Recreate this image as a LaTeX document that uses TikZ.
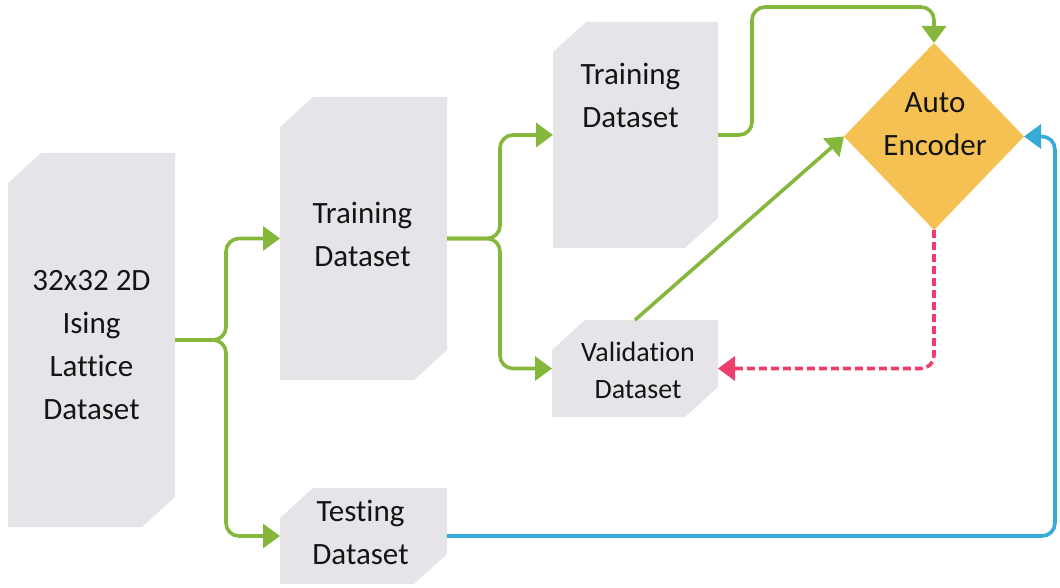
\documentclass[tikz,border=0pt]{standalone}
\usepackage{fontspec}
\setmainfont{Carlito}[Ligatures=NoCommon]
\usetikzlibrary{arrows.meta,shapes.geometric}

\definecolor{boxgray}{RGB}{230,228,232}
\definecolor{flowgreen}{RGB}{134,183,61}
\definecolor{flowpink}{RGB}{240,62,108}
\definecolor{flowblue}{RGB}{56,170,214}
\definecolor{aegold}{RGB}{245,193,82}
\definecolor{inkdark}{RGB}{20,20,20}

\tikzset{
  % gray data block with the top-left and bottom-right corners cut off
  databox/.style={rectangle, draw=none, inner sep=0pt, outer sep=0pt,
    minimum width=#1,
    path picture={
      \fill[boxgray]
        ([xshift=33pt]path picture bounding box.north west)
        -- (path picture bounding box.north east)
        -- ([yshift=30pt]path picture bounding box.south east)
        -- ([xshift=-33pt]path picture bounding box.south east)
        -- (path picture bounding box.south west)
        -- ([yshift=-30pt]path picture bounding box.north west)
        -- cycle;}},
  lbl/.style={align=center, text=inkdark, inner sep=0pt,
    font=\fontsize{31}{43}\selectfont},
  lblsmall/.style={lbl, font=\fontsize{28}{37}\selectfont},
  link/.style={line width=3.6pt, rounded corners=13pt,
    -{Triangle[length=17pt,width=24pt]}},
  glink/.style={link, draw=flowgreen},
  plink/.style={link, draw=flowpink, dash pattern=on 8pt off 4pt},
  blink/.style={link, draw=flowblue},
}

\begin{document}
\begin{tikzpicture}[x=1pt,y=-1pt]
\useasboundingbox (0,0) rectangle (1060,588);

% data blocks
\node[databox=167, minimum height=374] (lat) at (91.5,340) {};
\node[databox=167, minimum height=283] (tr1) at (363.5,238.5) {};
\node[databox=165, minimum height=226] (tr2) at (635.5,135) {};
\node[databox=166, minimum height=97]  (val) at (635,368.5) {};
\node[databox=167, minimum height=96]  (tst) at (363.5,536) {};

% the autoencoder
\node[diamond, fill=aegold, draw=none, inner sep=0pt, outer sep=0pt,
      minimum width=180, minimum height=187] (ae) at (934,136.5) {};

% texts
\node[lbl] (lat-t) at ([yshift=-5pt]lat.center) {32x32 2D\\Ising\\Lattice\\Dataset};
\node[lbl] (tr1-t) at ([xshift=-1pt,yshift=4pt]tr1.center) {Training\\Dataset};
\node[lbl] (tr2-t) at ([xshift=-5pt,yshift=40pt]tr2.center) {Training\\Dataset};
\node[lblsmall] (val-t) at ([xshift=3pt,yshift=-2pt]val.center) {Validation\\Dataset};
\node[lbl] (tst-t) at ([xshift=-3pt,yshift=4pt]tst.center) {Testing\\Dataset};
\node[lbl] (ae-t) at ([xshift=1pt,yshift=12pt]ae.center) {Auto\\Encoder};

% branch points and bends
\coordinate (j1) at (226,340);
\coordinate (j2) at (500,238.5);
\coordinate (top) at (752,7);
\coordinate (rb) at (1055,136.5);

% splitting the lattice dataset
\draw[glink] (lat.east) -- (j1) |- (tr1.west);
\draw[glink] (lat.east) -- (j1) |- (tst.west);

% splitting the training dataset
\draw[glink] (tr1.east) -- (j2) |- (tr2.west);
\draw[glink] (tr1.east) -- (j2) |- (val.west);

% feeding the autoencoder
\draw[glink] (tr2.east) -| (top) -| (ae.north);
\draw[glink, rounded corners=0pt] (val.north) -- (ae.west);

% validation feedback
\draw[plink] (ae.south) |- (val.east);

% testing
\draw[blink] (tst.east) -| (rb) -- (ae.east);
\end{tikzpicture}
\end{document}
